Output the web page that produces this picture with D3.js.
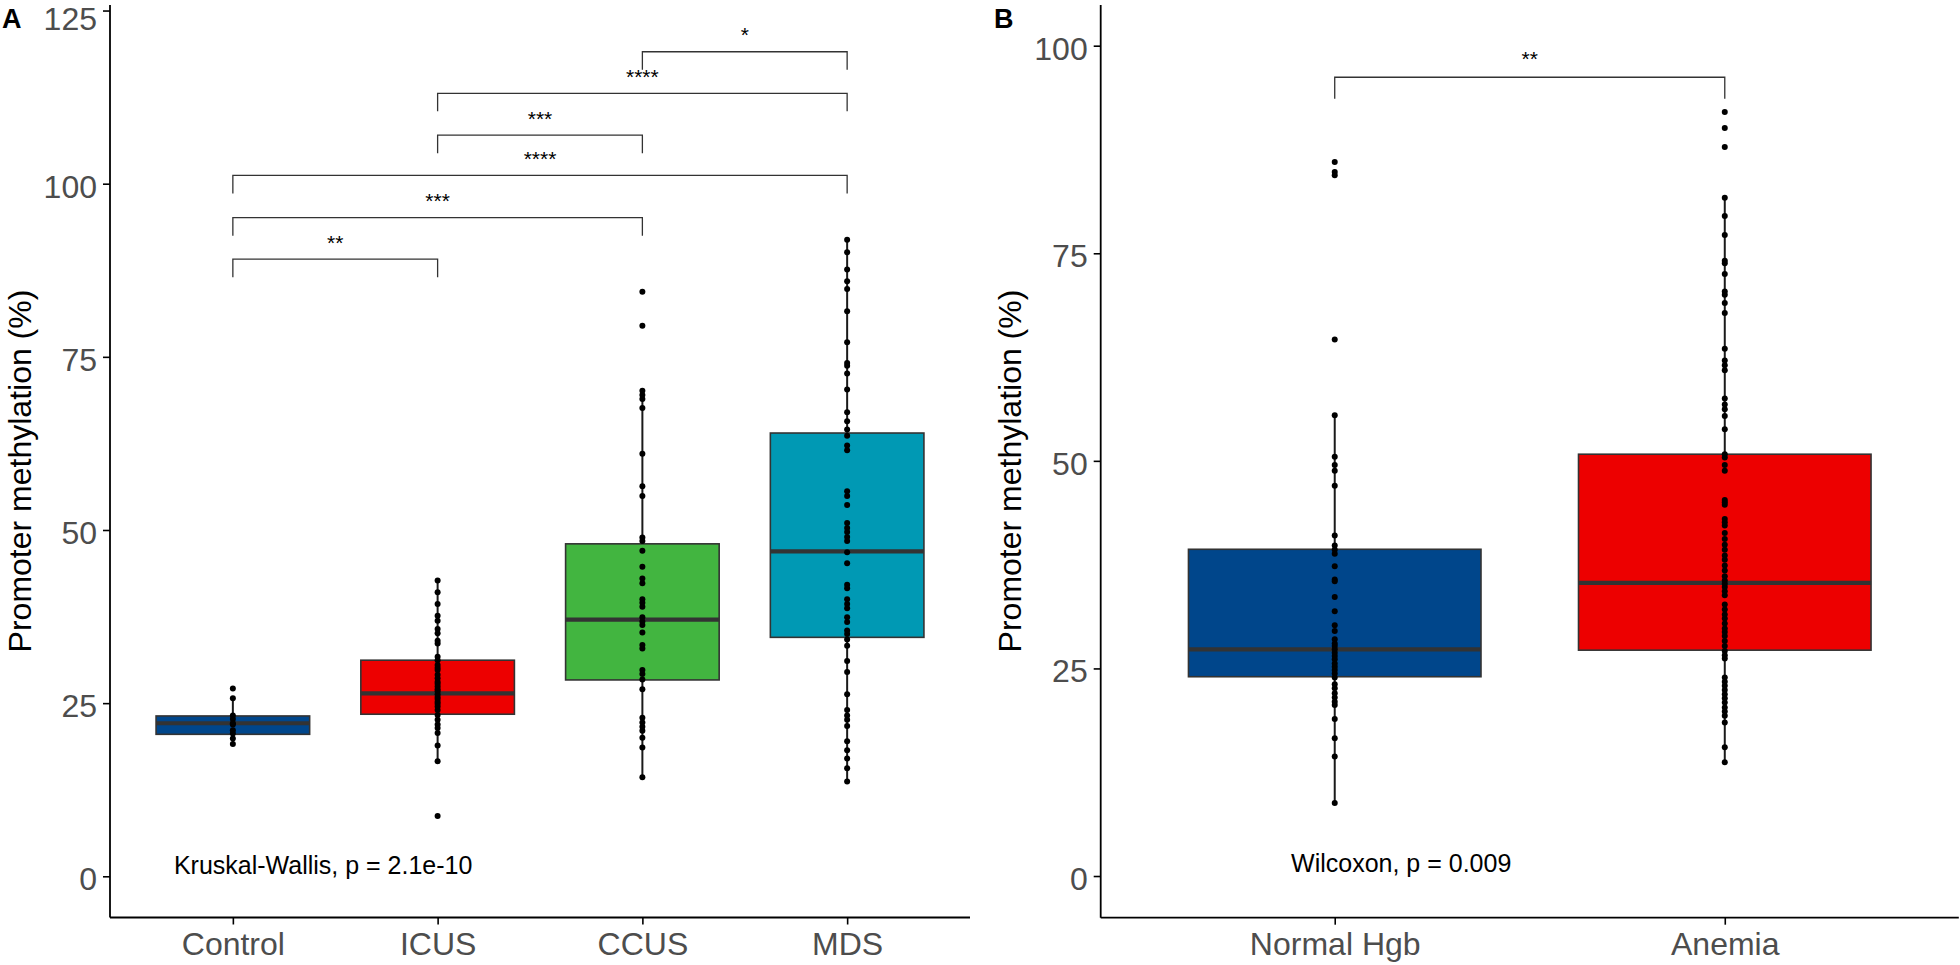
<!DOCTYPE html>
<html><head><meta charset="utf-8">
<script src="https://cdn.jsdelivr.net/npm/d3@7"></script>
<style>
body{margin:0;background:#fff;}
text{font-family:"Liberation Sans",Arial,Helvetica,sans-serif;}
</style>
</head><body>
<svg id="chart" width="1960" height="965" style="background:#fff"></svg>
<script>
// ---------------- Panel A data ----------------
const groupsA = ["Control", "ICUS", "CCUS", "MDS"];
const q1A  = [20.5, 23.4, 28.35, 34.5];
const medA = [22.1, 26.4, 37.05, 46.9];
const q3A  = [23.15, 31.2, 48.0, 64.0];
const loA  = [19.05, 16.65, 14.25, 13.7];
const hiA  = [25.7, 42.7, 70.1, 92.0];
const controlVals = [27.1, 25.7, 23.2, 22.7, 22.1, 21.9, 21.1, 20.6, 19.9, 19.1];
const icusVals = [42.7, 41.0, 39.3, 37.6, 36.9, 35.7, 35.1, 34.0, 33.6, 31.7, 31.2, 30.5, 30.1, 29.8, 29.1, 28.6, 28.1, 27.8, 27.4, 27.0, 26.7, 26.3, 25.9, 25.6, 25.2, 24.9, 24.5, 24.0, 23.3, 22.6, 21.9, 21.4, 20.7, 18.9, 16.6, 8.7];
const ccusVals = [84.4, 79.5, 70.1, 69.5, 68.9, 67.6, 61.0, 56.3, 54.9, 48.9, 48.4, 47.0, 44.7, 43.0, 42.3, 40.0, 39.5, 38.9, 37.4, 36.8, 36.3, 35.2, 33.4, 32.9, 29.8, 29.2, 28.4, 27.0, 22.9, 22.2, 21.6, 21.0, 20.0, 18.6, 14.3];
const mdsVals = [91.9, 90.1, 87.6, 85.9, 84.8, 81.6, 77.1, 74.1, 73.7, 72.6, 70.3, 67.0, 65.7, 64.5, 63.6, 62.2, 61.5, 55.6, 54.9, 53.6, 51.0, 50.3, 49.7, 49.0, 48.4, 46.8, 45.2, 42.1, 41.6, 40.0, 39.3, 38.7, 37.4, 36.7, 35.5, 35.0, 34.2, 33.3, 31.1, 29.5, 26.3, 24.0, 23.2, 22.6, 21.7, 19.5, 18.2, 17.0, 15.6, 13.7];
const ticksA = [0, 25, 50, 75, 100, 125];
const bracketPairsA = [[1, 2], [1, 3], [1, 4], [2, 3], [2, 4], [3, 4]];
const bracketYA = [89.1, 95.1, 101.2, 107.0, 113.05, 119.05];
const bracketLabelsA = ["**", "***", "****", "***", "****", "*"];
const testLabelA = "Kruskal-Wallis, p = 2.1e-10";

// ---------------- Panel B data ----------------
const groupsB = ["Normal Hgb", "Anemia"];
const q1B  = [24.0, 27.2];
const medB = [27.3, 35.3];
const q3B  = [39.35, 50.8];
const loB  = [8.8, 13.7];
const hiB  = [55.5, 81.7];
const normalVals = [86.0, 84.8, 84.4, 64.6, 55.5, 50.5, 49.5, 48.8, 47.0, 41.0, 39.8, 39.3, 38.8, 37.3, 35.7, 35.5, 33.6, 31.9, 30.2, 29.5, 28.5, 28.0, 27.7, 27.3, 26.9, 26.5, 26.1, 25.6, 25.2, 24.8, 24.4, 23.9, 23.1, 22.6, 22.0, 21.5, 21.0, 20.6, 18.9, 16.6, 14.4, 8.8];
const anemiaVals = [92.0, 90.1, 87.8, 81.7, 79.5, 77.2, 74.1, 73.8, 72.5, 70.4, 70.0, 69.0, 67.8, 63.5, 62.1, 61.5, 60.9, 57.5, 56.8, 56.2, 55.4, 53.8, 50.8, 50.4, 49.5, 48.8, 45.3, 45.0, 44.7, 43.0, 42.6, 42.2, 41.3, 40.6, 39.9, 39.3, 38.6, 38.1, 37.4, 36.8, 36.1, 35.6, 35.2, 34.8, 34.3, 33.8, 32.7, 32.1, 31.5, 31.0, 30.4, 29.8, 29.4, 28.9, 28.3, 27.7, 27.1, 26.6, 26.2, 23.9, 23.4, 22.9, 22.4, 21.9, 21.4, 20.9, 20.3, 19.8, 19.3, 18.5, 15.5, 13.7];
const ticksB = [0, 25, 50, 75, 100];
const bracketPairsB = [[1, 2]];
const bracketYB = [96.2];
const bracketLabelsB = ["**"];
const testLabelB = "Wilcoxon, p = 0.009";

const yTitle = "Promoter methylation (%)";

// ---------------- styles ----------------
const paletteA = ["#00468B", "#ED0000", "#42B540", "#0099B4"];
const paletteB = ["#00468B", "#ED0000"];

const svg = d3.select("#chart");

function drawPanel(o) {
  const g = svg.append("g");
  const n = o.groups.length;
  const x = d3.scaleLinear().domain([0.4, n + 0.6]).range([o.left, o.right]);
  const y = d3.scaleLinear().domain(o.yDomain).range([o.bottom, o.top]);
  const bw = 0.375;

  // boxes
  o.groups.forEach((grp, i) => {
    const c = i + 1;
    g.append("line").attr("x1", x(c)).attr("x2", x(c))
      .attr("y1", y(o.q3[i])).attr("y2", y(o.hi[i]))
      .attr("stroke", "#1a1a1a").attr("stroke-width", 2);
    g.append("line").attr("x1", x(c)).attr("x2", x(c))
      .attr("y1", y(o.q1[i])).attr("y2", y(o.lo[i]))
      .attr("stroke", "#1a1a1a").attr("stroke-width", 2);
    g.append("rect")
      .attr("x", x(c - bw)).attr("width", x(c + bw) - x(c - bw))
      .attr("y", y(o.q3[i])).attr("height", y(o.q1[i]) - y(o.q3[i]))
      .attr("fill", o.palette[i]).attr("stroke", "#333333").attr("stroke-width", 1.6);
    g.append("line").attr("x1", x(c - bw)).attr("x2", x(c + bw))
      .attr("y1", y(o.med[i])).attr("y2", y(o.med[i]))
      .attr("stroke", "#333333").attr("stroke-width", 4.2);
  });

  // points
  o.points.forEach((vals, i) => {
    g.selectAll(null).data(vals).enter().append("circle")
      .attr("cx", x(i + 1)).attr("cy", d => y(d)).attr("r", 3)
      .attr("fill", "#000");
  });

  // axes
  const yAxis = d3.axisLeft(y).tickValues(o.ticks).tickSize(7).tickSizeOuter(0).tickPadding(6);
  const ya = g.append("g").attr("transform", `translate(${o.left},0)`).call(yAxis);
  const xAxis = d3.axisBottom(x).tickValues(d3.range(1, n + 1))
    .tickFormat((d) => o.groups[d - 1]).tickSize(7).tickSizeOuter(0).tickPadding(8);
  const xa = g.append("g").attr("transform", `translate(0,${o.bottom})`).call(xAxis);
  [ya, xa].forEach(a => {
    a.select(".domain").attr("stroke", "#000").attr("stroke-width", 1.8);
    a.selectAll(".tick line").attr("stroke", "#000").attr("stroke-width", 1.6);
    a.selectAll(".tick text").attr("fill", "#4D4D4D")
      .style("font-size", "32px").style("font-family", '"Liberation Sans",Arial,sans-serif');
  });
  // y labels: slightly below the tick, kept inside the top edge
  ya.selectAll(".tick text").attr("dy", null)
    .attr("y", d => Math.max(y(d) + 13.4, o.top + 24) - y(d));
  ya.select(".domain").attr("d", `M0,${o.top}V${o.bottom}`);
  xa.select(".domain").attr("d", `M${o.left},0H${o.right}`);

  // y title
  g.append("text")
    .attr("transform", `translate(${o.titleX},${o.titleY}) rotate(-90)`)
    .attr("text-anchor", "middle").attr("fill", "#000")
    .style("font-size", "32px").text(yTitle);

  // brackets
  const tick = 2.6;
  o.pairs.forEach((p, k) => {
    const yy = o.bracketY[k];
    const path = d3.path();
    path.moveTo(x(p[0]), y(yy - tick));
    path.lineTo(x(p[0]), y(yy));
    path.lineTo(x(p[1]), y(yy));
    path.lineTo(x(p[1]), y(yy - tick));
    g.append("path").attr("d", path.toString()).attr("fill", "none")
      .attr("stroke", "#333333").attr("stroke-width", 1.3);
    g.append("text").attr("x", x((p[0] + p[1]) / 2)).attr("y", y(yy) - o.starOffset)
      .attr("text-anchor", "middle").attr("fill", "#000")
      .style("font-size", "21px").text(o.labels[k]);
  });

  // test label
  g.append("text").attr("x", x(o.testX)).attr("y", y(o.testY))
    .attr("fill", "#000").style("font-size", "25px").text(o.testLabel);

  // panel letter
  g.append("text").attr("x", o.letterX).attr("y", 28)
    .attr("fill", "#000").style("font-size", "27px").style("font-weight", "bold").text(o.letter);
}

drawPanel({
  groups: groupsA, q1: q1A, med: medA, q3: q3A, lo: loA, hi: hiA,
  points: [controlVals, icusVals, ccusVals, mdsVals], palette: paletteA,
  left: 110, right: 970, top: 5, bottom: 917.5, yDomain: [-5.95, 125.8], ticks: ticksA,
  pairs: bracketPairsA, bracketY: bracketYA, labels: bracketLabelsA, starOffset: 9.5,
  testLabel: testLabelA, testX: 0.712, testY: 0.3,
  titleX: 31, titleY: 471, letter: "A", letterX: 2
});

drawPanel({
  groups: groupsB, q1: q1B, med: medB, q3: q3B, lo: loB, hi: hiB,
  points: [normalVals, anemiaVals], palette: paletteB,
  left: 1100.7, right: 1958.8, top: 5, bottom: 917.7, yDomain: [-5.02, 104.9], ticks: ticksB,
  pairs: bracketPairsB, bracketY: bracketYB, labels: bracketLabelsB, starOffset: 11,
  testLabel: testLabelB, testX: 0.888, testY: 0.45,
  titleX: 1021, titleY: 471, letter: "B", letterX: 994
});
</script>
</body></html>
